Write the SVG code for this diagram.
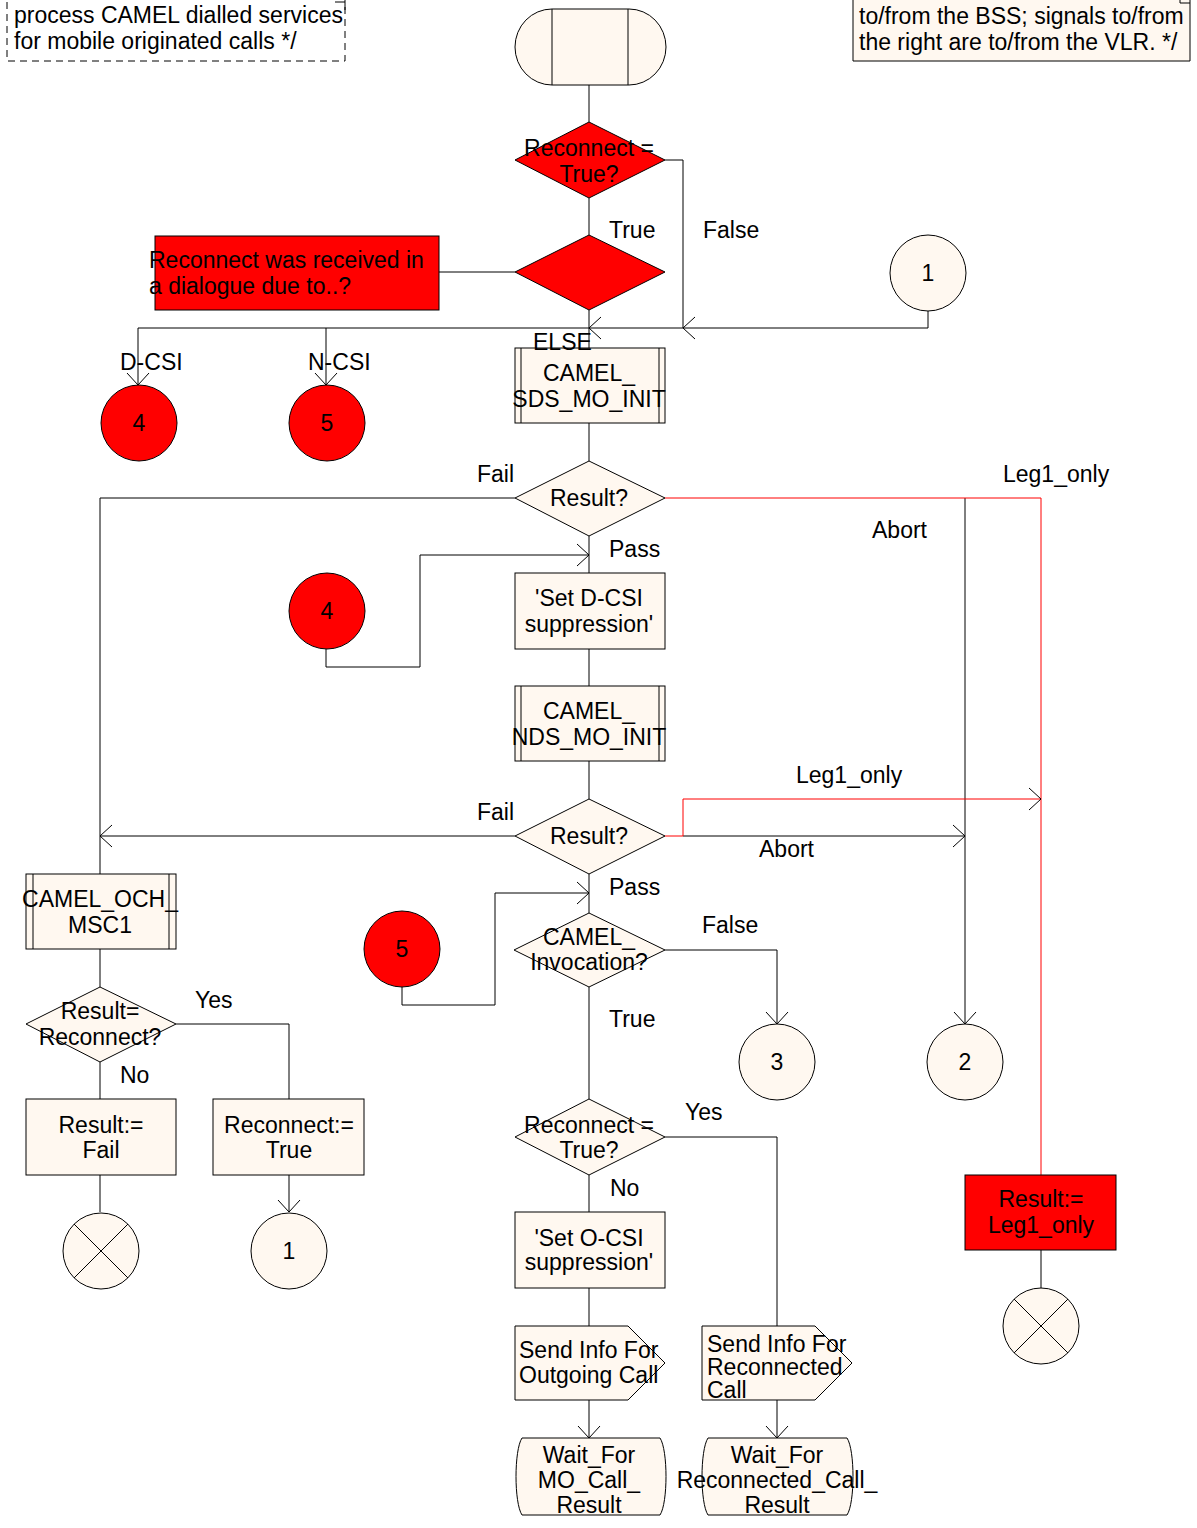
<svg xmlns="http://www.w3.org/2000/svg" width="1197" height="1528" viewBox="0 0 1197 1528">
<defs>
<style>
text{font-family:"Liberation Sans",Arial,sans-serif;font-size:23px;fill:#000}
.c{text-anchor:middle}
.n{fill:#FFF8F0;stroke:#000;stroke-width:1}
.r{fill:#FF0000;stroke:#000;stroke-width:1}
.l{fill:none;stroke:#000;stroke-width:1}
.red{fill:none;stroke:#FF0000;stroke-width:1}
</style>
<marker id="a" viewBox="0 0 14 24" markerWidth="14" markerHeight="24" refX="13" refY="12" orient="auto" markerUnits="userSpaceOnUse">
<path d="M1,1 L13,12 L1,23" fill="none" stroke="#000" stroke-width="1"/>
</marker>
</defs>
<rect width="1197" height="1528" fill="#FFFFFF"/>

<g id="comment-left">
<path d="M7,-10 L7,61 L345,61 L345,-10" fill="none" stroke="#000" stroke-width="1" stroke-dasharray="7,5"/>
<path d="M335,2 L345,2 L345,10" fill="none" stroke="#000" stroke-width="1"/>
<text x="14" y="23">process CAMEL dialled services</text>
<text x="14" y="49">for mobile originated calls */</text>
</g>

<g id="comment-right">
<path d="M853,-10 L853,61 L1190,61 L1190,-10" class="n"/>
<path d="M1180,0 L1180,3 L1190,3" fill="none" stroke="#000" stroke-width="1"/>
<text x="859" y="24">to/from the BSS; signals to/from</text>
<text x="859" y="50">the right are to/from the VLR. */</text>
</g>

<g id="connectors">
<path class="l" d="M589,85 L589,122"/>
<path class="l" d="M665,160 L683,160 L683,328"/>
<path class="l" d="M589,198 L589,235"/>
<path class="l" d="M515,272 L439,272"/>
<path class="l" d="M589,310 L589,348"/>
<path class="l" d="M928,311 L928,328 L683,328" marker-end="url(#a)"/>
<path class="l" d="M683,328 L589,328" marker-end="url(#a)"/>
<path class="l" d="M589,328 L138,328 L138,385" marker-end="url(#a)"/>
<path class="l" d="M326,328 L326,385" marker-end="url(#a)"/>
<path class="l" d="M589,423 L589,461"/>
<path class="l" d="M515,498 L100,498 L100,874"/>
<path class="l" d="M965,498 L965,1024" marker-end="url(#a)" stroke="#333"/>
<path class="red" d="M665,498 L1041,498 L1041,1175"/>
<path class="l" d="M589,536 L589,573"/>
<path class="l" d="M326,649 L326,667 L420,667 L420,555 L589,555" marker-end="url(#a)"/>
<path class="l" d="M589,649 L589,686"/>
<path class="l" d="M589,761 L589,799"/>
<path class="l" d="M515,836 L100,836" marker-end="url(#a)"/>
<path class="l" d="M683,836 L965,836" marker-end="url(#a)"/>
<path class="red" d="M665,836 L683,836 L683,799 L1041,799" marker-end="url(#a)"/>
<path class="l" d="M589,874 L589,913"/>
<path class="l" d="M402,987 L402,1005 L495,1005 L495,893 L589,893" marker-end="url(#a)"/>
<path class="l" d="M665,950 L777,950 L777,1024" marker-end="url(#a)"/>
<path class="l" d="M589,987 L589,1099"/>
<path class="l" d="M100,949 L100,987"/>
<path class="l" d="M176,1024 L289,1024 L289,1099"/>
<path class="l" d="M100,1062 L100,1099"/>
<path class="l" d="M100,1175 L100,1212"/>
<path class="l" d="M289,1175 L289,1212" marker-end="url(#a)"/>
<path class="l" d="M665,1137 L777,1137 L777,1326"/>
<path class="l" d="M589,1175 L589,1212"/>
<path class="l" d="M589,1288 L589,1326"/>
<path class="l" d="M589,1400 L589,1438" marker-end="url(#a)"/>
<path class="l" d="M777,1400 L777,1438" marker-end="url(#a)"/>
<path class="l" d="M1041,1250 L1041,1288"/>
</g>

<g id="start">
<rect x="515" y="9" width="151" height="76" rx="37" ry="38" class="n"/>
<path class="l" d="M552,9 L552,85 M628,9 L628,85"/>
</g>

<g id="dec-reconnect1">
<polygon points="589,122 665,160 589,198 515,160" class="r"/>
<text x="589" y="156" class="c">Reconnect =</text>
<text x="589" y="182" class="c">True?</text>
</g>

<g id="dec-dialogue">
<polygon points="589,235 665,272 589,310 515,272" class="r"/>
</g>

<g id="dialogue-text">
<rect x="155" y="236" width="284" height="74" class="r"/>
<text x="149" y="268">Reconnect was received in</text>
<text x="149" y="294">a dialogue due to..?</text>
</g>

<g id="conn-1-top">
<circle cx="928" cy="273" r="38" class="n"/>
<text x="928" y="281" class="c">1</text>
</g>

<g id="conn-4-out">
<circle cx="139" cy="423" r="38" class="r"/>
<text x="139" y="431" class="c">4</text>
</g>

<g id="conn-5-out">
<circle cx="327" cy="423" r="38" class="r"/>
<text x="327" y="431" class="c">5</text>
</g>

<g id="proc-sds">
<rect x="515" y="348" width="150" height="75" class="n"/>
<path class="l" d="M521,348 L521,423 M659,348 L659,423"/>
<text x="589" y="381" class="c">CAMEL_</text>
<text x="589" y="407" class="c">SDS_MO_INIT</text>
</g>

<g id="dec-result1">
<polygon points="589,461 665,498 589,536 515,498" class="n"/>
<text x="589" y="506" class="c">Result?</text>
</g>

<g id="conn-4-in">
<circle cx="327" cy="611" r="38" class="r"/>
<text x="327" y="619" class="c">4</text>
</g>

<g id="task-dcsi">
<rect x="515" y="573" width="150" height="76" class="n"/>
<text x="589" y="606" class="c">'Set D-CSI</text>
<text x="589" y="632" class="c">suppression'</text>
</g>

<g id="proc-nds">
<rect x="515" y="686" width="150" height="75" class="n"/>
<path class="l" d="M521,686 L521,761 M659,686 L659,761"/>
<text x="589" y="719" class="c">CAMEL_</text>
<text x="589" y="745" class="c">NDS_MO_INIT</text>
</g>

<g id="dec-result2">
<polygon points="589,799 665,836 589,874 515,836" class="n"/>
<text x="589" y="844" class="c">Result?</text>
</g>

<g id="conn-5-in">
<circle cx="402" cy="949" r="38" class="r"/>
<text x="402" y="957" class="c">5</text>
</g>

<g id="dec-invocation">
<polygon points="589,913 665,950 589,987 514,950" class="n"/>
<text x="589" y="945" class="c">CAMEL_</text>
<text x="589" y="970" class="c">Invocation?</text>
</g>

<g id="conn-3">
<circle cx="777" cy="1062" r="38" class="n"/>
<text x="777" y="1070" class="c">3</text>
</g>

<g id="conn-2">
<circle cx="965" cy="1062" r="38" class="n"/>
<text x="965" y="1070" class="c">2</text>
</g>

<g id="proc-och">
<rect x="26" y="874" width="150" height="75" class="n"/>
<path class="l" d="M33,874 L33,949 M169,874 L169,949"/>
<text x="100" y="907" class="c">CAMEL_OCH_</text>
<text x="100" y="933" class="c">MSC1</text>
</g>

<g id="dec-result-reconnect">
<polygon points="100,987 176,1024 100,1062 26,1024" class="n"/>
<text x="100" y="1019" class="c">Result=</text>
<text x="100" y="1045" class="c">Reconnect?</text>
</g>

<g id="task-fail">
<rect x="26" y="1099" width="150" height="76" class="n"/>
<text x="101" y="1133" class="c">Result:=</text>
<text x="101" y="1158" class="c">Fail</text>
</g>

<g id="task-reconnect-true">
<rect x="213" y="1099" width="151" height="76" class="n"/>
<text x="289" y="1133" class="c">Reconnect:=</text>
<text x="289" y="1158" class="c">True</text>
</g>

<g id="stop-left">
<circle cx="101" cy="1251" r="38" class="n"/>
<path class="l" d="M74,1224 L128,1278 M128,1224 L74,1278"/>
</g>

<g id="conn-1-bottom">
<circle cx="289" cy="1251" r="38" class="n"/>
<text x="289" y="1259" class="c">1</text>
</g>

<g id="dec-reconnect3">
<polygon points="589,1099 665,1137 589,1175 515,1137" class="n"/>
<text x="589" y="1133" class="c">Reconnect =</text>
<text x="589" y="1158" class="c">True?</text>
</g>

<g id="task-ocsi">
<rect x="515" y="1212" width="150" height="76" class="n"/>
<text x="589" y="1246" class="c">'Set O-CSI</text>
<text x="589" y="1270" class="c">suppression'</text>
</g>

<g id="out-outgoing">
<polygon points="515,1326 628,1326 665,1363 628,1400 515,1400" class="n"/>
<text x="519" y="1358">Send Info For</text>
<text x="519" y="1383">Outgoing Call</text>
</g>

<g id="out-reconnected">
<polygon points="702,1326 815,1326 852,1363 815,1400 702,1400" class="n"/>
<text x="707" y="1352">Send Info For</text>
<text x="707" y="1375">Reconnected</text>
<text x="707" y="1398">Call</text>
</g>

<g id="state-mo">
<path d="M522,1438 L660,1438 C668,1450 668,1503 660,1515 L522,1515 C514,1503 514,1450 522,1438 Z" class="n"/>
<text x="589" y="1463" class="c">Wait_For</text>
<text x="589" y="1488" class="c">MO_Call_</text>
<text x="589" y="1513" class="c">Result</text>
</g>

<g id="state-reconnected">
<path d="M708,1438 L847,1438 C855,1450 855,1503 847,1515 L708,1515 C700,1503 700,1450 708,1438 Z" class="n"/>
<text x="777" y="1463" class="c">Wait_For</text>
<text x="777" y="1488" class="c">Reconnected_Call_</text>
<text x="777" y="1513" class="c">Result</text>
</g>

<g id="task-leg1">
<rect x="965" y="1175" width="151" height="75" class="r"/>
<text x="1041" y="1207" class="c">Result:=</text>
<text x="1041" y="1233" class="c">Leg1_only</text>
</g>

<g id="stop-right">
<circle cx="1041" cy="1326" r="38" class="n"/>
<path class="l" d="M1014,1299 L1068,1353 M1068,1299 L1014,1353"/>
</g>

<g id="labels">
<text x="609" y="238">True</text>
<text x="703" y="238">False</text>
<text x="533" y="350">ELSE</text>
<text x="120" y="370">D-CSI</text>
<text x="308" y="370">N-CSI</text>
<text x="477" y="482">Fail</text>
<text x="1003" y="482">Leg1_only</text>
<text x="872" y="538">Abort</text>
<text x="609" y="557">Pass</text>
<text x="796" y="783">Leg1_only</text>
<text x="477" y="820">Fail</text>
<text x="759" y="857">Abort</text>
<text x="609" y="895">Pass</text>
<text x="702" y="933">False</text>
<text x="609" y="1027">True</text>
<text x="195" y="1008">Yes</text>
<text x="120" y="1083">No</text>
<text x="685" y="1120">Yes</text>
<text x="610" y="1196">No</text>
</g>
</svg>
